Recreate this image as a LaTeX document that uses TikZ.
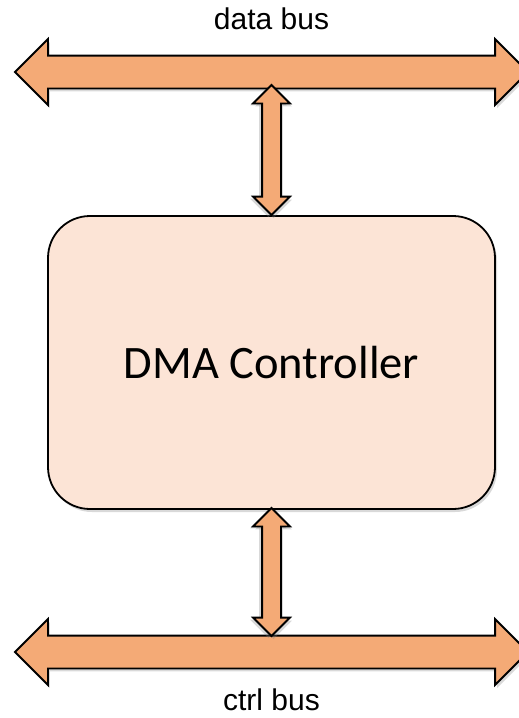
\documentclass[tikz,border=0pt]{standalone}
\usepackage{fontspec}
\newfontfamily\busfont{Liberation Sans}
\newfontfamily\boxfont{Carlito}
\usetikzlibrary{shapes.arrows,shadows}

\definecolor{busorange}{RGB}{244,170,118}
\definecolor{boxpeach}{RGB}{252,228,214}

\tikzset{
  fatarrow/.style={double arrow, draw=black, line width=1.8pt, fill=busorange,
    inner xsep=0pt, double arrow tip angle=90,
    drop shadow={opacity=0.3, shadow xshift=2pt, shadow yshift=-3pt}},
  buslabel/.style={font=\busfont\fontsize{30}{36}\selectfont, anchor=base, inner sep=0pt}
}

\begin{document}
\begin{tikzpicture}[x=1pt,y=-1pt]

\useasboundingbox (0,0) rectangle (519,718);

\node [fatarrow, inner ysep=15.5pt, minimum height=513pt,
  double arrow head extend=16.5pt] (databus) at (271.5,72) {};
\node [fatarrow, inner ysep=15.5pt, minimum height=513pt,
  double arrow head extend=16.5pt] (ctrlbus) at (271.5,652) {};

\node [buslabel] (datalabel) at (271.5,29) {data bus};
\node [buslabel] (ctrllabel) at (271.5,710) {ctrl bus};

\node [draw=black, line width=1.8pt, fill=boxpeach, rounded corners=42pt,
  minimum width=447pt, minimum height=293pt,
  drop shadow={opacity=0.3, shadow xshift=2pt, shadow yshift=-3pt},
  font=\boxfont\fontsize{46.5}{50}\selectfont] (dma) at (271.5,362.5) {DMA Controller};

\node [fatarrow, rotate=90, inner ysep=8.5pt, minimum height=130pt,
  double arrow head extend=9pt,
  drop shadow={opacity=0.3, shadow xshift=-3pt, shadow yshift=-2pt}] (dataport) at (271.5,150) {};
\node [fatarrow, rotate=90, inner ysep=8.5pt, minimum height=128pt,
  double arrow head extend=9pt,
  drop shadow={opacity=0.3, shadow xshift=-3pt, shadow yshift=-2pt}] (ctrlport) at (271.5,572) {};

\end{tikzpicture}
\end{document}
